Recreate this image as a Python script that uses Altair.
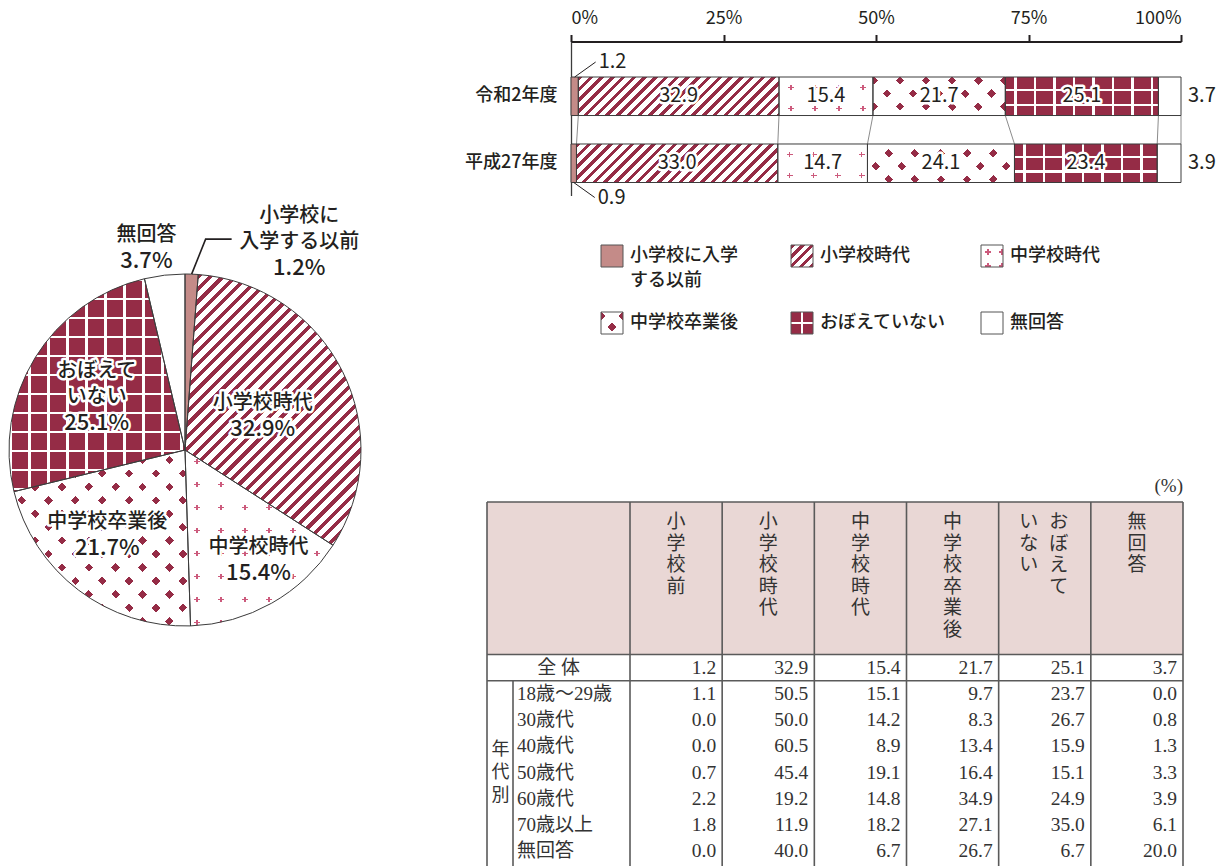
import math

import altair as alt
import pandas as pd

# ---------------------------------------------------------------- data
CATEGORIES = ["小学校に入学する以前", "小学校時代", "中学校時代", "中学校卒業後", "おぼえていない", "無回答"]
YEARS = ["令和2年度", "平成27年度"]
SHARES_R2 = [1.2, 32.9, 15.4, 21.7, 25.1, 3.7]
SHARES_H27 = [0.9, 33.0, 14.7, 24.1, 23.4, 3.9]
AXIS_TICKS = [0, 25, 50, 75, 100]

PIE_NAMES = ["小学校に\n入学する以前", "小学校時代", "中学校時代", "中学校卒業後", "おぼえて\nいない", "無回答"]
LEGEND_NAMES = ["小学校に入学\nする以前", "小学校時代", "中学校時代", "中学校卒業後", "おぼえていない", "無回答"]

TABLE_COLUMNS = ["小学校前", "小学校時代", "中学校時代", "中学校卒業後", "おぼえていない", "無回答"]
TABLE_ROWS = ["全体", "18歳～29歳", "30歳代", "40歳代", "50歳代", "60歳代", "70歳以上", "無回答"]
TABLE_VALUES = [
    [1.2, 32.9, 15.4, 21.7, 25.1, 3.7],
    [1.1, 50.5, 15.1, 9.7, 23.7, 0.0],
    [0.0, 50.0, 14.2, 8.3, 26.7, 0.8],
    [0.0, 60.5, 8.9, 13.4, 15.9, 1.3],
    [0.7, 45.4, 19.1, 16.4, 15.1, 3.3],
    [2.2, 19.2, 14.8, 34.9, 24.9, 3.9],
    [1.8, 11.9, 18.2, 27.1, 35.0, 6.1],
    [0.0, 40.0, 6.7, 26.7, 6.7, 20.0],
]

# ---------------------------------------------------------------- style
RED = "#952c46"
ROSE = "#c48b88"
PLUS = "#cc5a7c"
WHITE = "#ffffff"
CLEAR = "rgba(255,255,255,0)"
INK = "#231f20"
EDGE = "#3c3c3c"
HEAD_BG = "#e9d7d5"
TABLE_LINE = "#5a5a5a"
TABLE_INK = "#333333"
SANS = "Noto Sans CJK JP, Liberation Sans, sans-serif"
SERIF = "Liberation Serif, Noto Sans CJK JP, serif"

# ---------------------------------------------------------------- layout
W, H = 1227, 866
BAR_X_RANGE = [571, 1181]
BAR_Y_RANGE = [41.5, 195.5]
BAR_PAD_INNER, BAR_PAD_OUTER, BAR_ALIGN = 0.425, 0.362, 0.732
PX_PER_PCT = (BAR_X_RANGE[1] - BAR_X_RANGE[0]) / 100
_step = (BAR_Y_RANGE[1] - BAR_Y_RANGE[0]) / (len(YEARS) - BAR_PAD_INNER + 2 * BAR_PAD_OUTER)
BAR_BAND = _step * (1 - BAR_PAD_INNER)

PIE_CX, PIE_CY, PIE_R = 185, 450, 176
PIE_LABEL_SHIFT = [7.4, 0.75, -1.2, 1.45, -0.15, -1.15]   # % of a turn from slice middle
PIE_LABEL_RADIUS = [237, 85, 132, 115, 103, 206]
PIE_LINE = 26

LEGEND_X_RANGE = [612, 1182]
LEGEND_Y_RANGE = [256, 390]
KEY = 22

T_LEFT, T_SPLIT, T_NUM_LEFT, T_RIGHT = 487, 513, 630, 1183
T_TOP, T_HEAD_BOTTOM, T_ROW_STEP, T_BOTTOM = 502, 654.5, 26.25, 866
T_COL_W = (T_RIGHT - T_NUM_LEFT) / len(TABLE_COLUMNS)


# ---------------------------------------------------------------- fills
def stripes(w, h, angle, period, ink, paper, width, phase=0.0):
    """Linear gradient with hard stops: parallel bands of `ink` on `paper`,
    laid out in pixel space over a w x h bounding box."""
    a = math.radians(angle)
    c, s = math.cos(a), math.sin(a)
    c = 0.0 if abs(c) < 1e-9 else c
    s = 0.0 if abs(s) < 1e-9 else s
    corners = [(0.0, 0.0), (w, 0.0), (0.0, h), (w, h)]
    proj = [x * c + y * s for x, y in corners]
    lo = min(range(4), key=lambda i: proj[i])
    length = max(proj) - proj[lo]
    k = length / ((w * c) ** 2 + (h * s) ** 2)
    x1, y1 = corners[lo][0] / w, corners[lo][1] / h
    stops = []
    pos = (phase % period) - period
    while pos < length:
        for seg0, seg1, col in ((pos, pos + width, ink), (pos + width, pos + period, paper)):
            a0, a1 = max(seg0, 0.0), min(seg1, length)
            if a1 > a0:
                stops.append({"offset": round(a0 / length, 5), "color": col})
                stops.append({"offset": round(a1 / length, 5), "color": col})
        pos += period
    return {
        "gradient": "linear",
        "x1": round(x1, 5), "y1": round(y1, 5),
        "x2": round(x1 + k * w * c, 5), "y2": round(y1 + k * h * s, 5),
        "stops": stops,
    }


def plus_marks(w, h, px, py, arm, lw, color):
    """Small '+' glyphs on a px x py lattice, built from four stripe layers."""
    return [
        stripes(w, h, 0, px, color, WHITE, lw, px / 2 - lw / 2),
        stripes(w, h, 90, py, CLEAR, WHITE, arm, py / 2 - arm / 2),
        stripes(w, h, 90, py, color, CLEAR, lw, py / 2 - lw / 2),
        stripes(w, h, 0, px, CLEAR, WHITE, arm, px / 2 - arm / 2),
    ]


def pattern_fills(cat, w, h, size):
    """Stack of fills (bottom first) that builds each category's texture."""
    i = CATEGORIES.index(cat)
    if i == 0:
        return [ROSE]
    if i == 1:
        p = {"bar": 7.6, "pie": 8.8, "key": 7.0}[size]
        return [stripes(w, h, 45, p, RED, WHITE, p * 0.42)]
    if i == 2:
        px, py = {"bar": (24.0, 21.0), "pie": (24.0, 23.0), "key": (14.0, 14.0)}[size]
        return plus_marks(w, h, px, py, 5.5, 1.3, PLUS)
    if i == 3:
        p, d = {"bar": (18.5, 6.0), "pie": (19.0, 6.0), "key": (15.5, 6.0)}[size]
        return [stripes(w, h, 45, p, RED, WHITE, d),
                stripes(w, h, 135, p, CLEAR, WHITE, d)]
    if i == 4:
        (pv, fv), (ph, fh), lw = {
            "bar": ((19.5, 9.0), (14.5, 12.0), 2.4),
            "pie": ((19.0, 0.0), (19.0, 0.0), 2.6),
            "key": ((22.0, 9.7), (22.0, 9.7), 2.6),
        }[size]
        return [stripes(w, h, 0, pv, WHITE, RED, lw, fv),
                stripes(w, h, 90, ph, WHITE, CLEAR, lw, fh)]
    return [WHITE]


def arc_box(t0, t1, r):
    a0, a1 = t0 / 100 * 2 * math.pi, t1 / 100 * 2 * math.pi
    angles = [a0, a1] + [k * math.pi / 2 for k in range(5) if a0 < k * math.pi / 2 < a1]
    xs = [0.0] + [r * math.sin(a) for a in angles]
    ys = [0.0] + [-r * math.cos(a) for a in angles]
    return max(xs) - min(xs), max(ys) - min(ys)


def halo(base, enc, **kw):
    return base.mark_text(stroke="white", strokeWidth=5, strokeJoin="round",
                          fill="white", **kw).encode(**enc)


def ink(base, enc, **kw):
    return base.mark_text(fill=INK, **kw).encode(**enc)


layers = []

# ================================================================ stacked bars
bar_rows = []
for year, shares in zip(YEARS, [SHARES_R2, SHARES_H27]):
    cum = 0.0
    for cat, v in zip(CATEGORIES, shares):
        bar_rows.append({"year": year, "cat": cat, "value": v,
                         "start": round(cum, 4), "end": round(cum + v, 4),
                         "mid": round(cum + v / 2, 4), "label": f"{v:.1f}"})
        cum += v
bars = pd.DataFrame(bar_rows)

x_bar = alt.Scale(domain=[0, 100], range=BAR_X_RANGE, nice=False, zero=False)
y_bar = alt.Scale(type="band", domain=YEARS, range=BAR_Y_RANGE, paddingInner=BAR_PAD_INNER,
                  paddingOuter=BAR_PAD_OUTER, align=BAR_ALIGN)
bx = alt.X("start:Q", scale=x_bar, axis=None)
by = alt.Y("year:N", scale=y_bar, axis=None)

for row in bar_rows:
    w = row["value"] * PX_PER_PCT
    for fill in pattern_fills(row["cat"], w, BAR_BAND, "bar"):
        layers.append(
            alt.Chart(bars)
            .transform_filter((alt.datum.year == row["year"]) & (alt.datum.cat == row["cat"]))
            .mark_bar(fill=fill, strokeWidth=0)
            .encode(x=bx, x2="end:Q", y=by)
        )

# connecting lines between the two years
links = pd.DataFrame({
    "upper": bars.loc[bars.year == YEARS[0], "end"].to_list(),
    "lower": bars.loc[bars.year == YEARS[1], "end"].to_list(),
    "top": YEARS[0], "bottom": YEARS[1],
})
layers.append(
    alt.Chart(links).mark_rule(color="#8c8c8c", strokeWidth=1).encode(
        x=alt.X("upper:Q", scale=x_bar, axis=None), x2="lower:Q",
        y=alt.Y("top:N", scale=y_bar, axis=None, bandPosition=1),
        y2=alt.Y2("bottom:N", bandPosition=0),
    )
)

# outlines + axes
layers.append(
    alt.Chart(bars).mark_bar(fillOpacity=0, stroke=EDGE, strokeWidth=1).encode(
        x=alt.X("start:Q", scale=x_bar, axis=alt.Axis(
            orient="top", offset=-BAR_Y_RANGE[0], values=AXIS_TICKS,
            labelExpr="datum.value + '%'", title=None, grid=False,
            domainColor=INK, domainWidth=2, tickColor=INK, tickWidth=2, tickSize=7,
            labelFont=SANS, labelFontSize=18, labelColor=INK, labelPadding=7)),
        x2="end:Q",
        y=alt.Y("year:N", scale=y_bar, axis=alt.Axis(
            orient="left", offset=-BAR_X_RANGE[0], title=None, grid=False,
            domainColor=EDGE, domainWidth=1.3, ticks=False, tickSize=0,
            labelFont=SANS, labelFontSize=18, labelFontWeight=500,
            labelColor=INK, labelPadding=14)),
    )
)

# value labels inside the bars
inner = alt.Chart(bars).transform_filter(
    alt.FieldOneOfPredicate(field="cat", oneOf=CATEGORIES[1:5]))
inner_enc = dict(x=alt.X("mid:Q", scale=x_bar, axis=None), y=by, text="label:N")
inner_kw = dict(font=SANS, fontSize=20, align="center", baseline="middle")
layers += [halo(inner, inner_enc, **inner_kw), ink(inner, inner_enc, **inner_kw)]

# small first segment: label above (top bar) / below (bottom bar) with a leader
for year, sign in ((YEARS[0], -1), (YEARS[1], 1)):
    band_pos = 0 if sign < 0 else 1
    base = alt.Chart(bars).transform_filter(
        (alt.datum.year == year) & (alt.datum.cat == CATEGORIES[0]))
    layers.append(
        base.mark_rule(color=INK, strokeWidth=1, x2Offset=21, y2Offset=15 * sign).encode(
            x=alt.X("mid:Q", scale=x_bar, axis=None), x2="mid:Q",
            y=alt.Y("year:N", scale=y_bar, axis=None, bandPosition=band_pos),
            y2=alt.Y2("year:N", bandPosition=band_pos),
        )
    )
    layers.append(
        base.mark_text(font=SANS, fontSize=20, fill=INK, align="left", baseline="middle",
                       dx=24, dy=sign * (BAR_BAND / 2 + 15.5)).encode(
            x=alt.X("mid:Q", scale=x_bar, axis=None), y=by, text="label:N",
        )
    )

# last segment labelled to the right of the bar
layers.append(
    alt.Chart(bars).transform_filter(alt.datum.cat == CATEGORIES[-1])
    .mark_text(font=SANS, fontSize=20, fill=INK, align="left", baseline="middle", dx=7)
    .encode(x=alt.X("end:Q", scale=x_bar, axis=None), y=by, text="label:N")
)

# ================================================================ pie
pie_rows = []
cum = 0.0
for i, (cat, v) in enumerate(zip(CATEGORIES, SHARES_R2)):
    mid = cum + v / 2
    pie_rows.append({"cat": cat, "value": v, "start": round(cum, 4), "end": round(cum + v, 4),
                     "mid": mid, "lpos": mid + PIE_LABEL_SHIFT[i], "lr": PIE_LABEL_RADIUS[i],
                     "name": PIE_NAMES[i], "nlines": PIE_NAMES[i].count("\n") + 1,
                     "pct": f"{v:.1f}%"})
    cum += v
pie = pd.DataFrame(pie_rows)
theta_scale = alt.Scale(domain=[0, 100], range=[0, 2 * math.pi], nice=False, zero=False)

for row in pie_rows:
    w, h = arc_box(row["start"], row["end"], PIE_R)
    for fill in pattern_fills(row["cat"], w, h, "pie"):
        layers.append(
            alt.Chart(pie).transform_filter(alt.datum.cat == row["cat"])
            .mark_arc(radius=PIE_R, fill=fill, strokeWidth=0)
            .encode(theta=alt.Theta("start:Q", scale=theta_scale), theta2="end:Q",
                    x=alt.value(PIE_CX), y=alt.value(PIE_CY))
        )
layers.append(
    alt.Chart(pie).mark_arc(radius=PIE_R, fillOpacity=0, stroke=EDGE, strokeWidth=1)
    .encode(theta=alt.Theta("start:Q", scale=theta_scale), theta2="end:Q",
            x=alt.value(PIE_CX), y=alt.value(PIE_CY))
)

# leader line for the thin first slice
a = pie_rows[0]["mid"] / 100 * 2 * math.pi
p0 = (PIE_CX + PIE_R * math.sin(a), PIE_CY - PIE_R * math.cos(a))
leader = pd.DataFrame({"i": [0, 1, 2],
                       "x": [p0[0], p0[0] + 14, p0[0] + 40],
                       "y": [p0[1], p0[1] - 35, p0[1] - 35]})
layers.append(
    alt.Chart(leader).mark_line(color=INK, strokeWidth=1.6).encode(
        x=alt.X("x:Q", scale=None, axis=None), y=alt.Y("y:Q", scale=None, axis=None),
        order="i:O")
)

# slice labels: name lines above, percentage below, centred on the anchor
pie_halos, pie_inks = [], []
for n in (1, 2):
    base = alt.Chart(pie).transform_filter(alt.datum.nlines == n)
    pos = dict(theta=alt.Theta("lpos:Q", scale=theta_scale), radius=alt.Radius("lr:Q", scale=None),
               x=alt.value(PIE_CX), y=alt.value(PIE_CY))
    name_kw = dict(font=SANS, fontSize=20, fontWeight=500, lineHeight=PIE_LINE, align="center",
                   baseline="middle", lineBreak="\n", dy=-PIE_LINE / 2 * n)
    pct_kw = dict(font=SANS, fontSize=22, fontWeight=500, align="center", baseline="middle",
                  dy=PIE_LINE / 2 * n)
    pie_halos += [halo(base, dict(pos, text="name:N"), **name_kw),
                  halo(base, dict(pos, text="pct:N"), **pct_kw)]
    pie_inks += [ink(base, dict(pos, text="name:N"), **name_kw),
                 ink(base, dict(pos, text="pct:N"), **pct_kw)]
layers += pie_halos + pie_inks

# ================================================================ legend
legend = pd.DataFrame({"cat": CATEGORIES, "label": LEGEND_NAMES,
                       "col": [i % 3 for i in range(6)], "row": [i // 3 for i in range(6)]})
lx = alt.X("col:Q", scale=alt.Scale(domain=[0, 3], range=LEGEND_X_RANGE, nice=False, zero=False), axis=None)
ly = alt.Y("row:Q", scale=alt.Scale(domain=[0, 2], range=LEGEND_Y_RANGE, nice=False, zero=False), axis=None)
for cat in CATEGORIES:
    for fill in pattern_fills(cat, KEY, KEY, "key"):
        layers.append(
            alt.Chart(legend).transform_filter(alt.datum.cat == cat)
            .mark_square(size=KEY * KEY, fill=fill, opacity=1, strokeWidth=0, filled=True)
            .encode(x=lx, y=ly)
        )
layers.append(
    alt.Chart(legend).mark_square(size=KEY * KEY, fillOpacity=0, opacity=1, stroke="#555555",
                                  strokeWidth=1, filled=False).encode(x=lx, y=ly)
)
layers.append(
    alt.Chart(legend).mark_text(font=SANS, fontSize=18, fontWeight=500, fill=INK, align="left",
                                baseline="top", dx=18, dy=-9, lineHeight=25, lineBreak="\n")
    .encode(x=lx, y=ly, text="label:N")
)

# ================================================================ table
tx_scale = alt.Scale(type="band", domain=TABLE_COLUMNS, range=[T_NUM_LEFT, T_RIGHT],
                     paddingInner=0, paddingOuter=0)
ty_scale = alt.Scale(type="band", domain=TABLE_ROWS,
                     range=[T_HEAD_BOTTOM, T_HEAD_BOTTOM + T_ROW_STEP * len(TABLE_ROWS)],
                     paddingInner=0, paddingOuter=0)

layers.append(
    alt.Chart(pd.DataFrame({"k": [0]})).mark_rect(fill=HEAD_BG).encode(
        x=alt.value(T_LEFT), x2=alt.value(T_RIGHT), y=alt.value(T_TOP), y2=alt.value(T_HEAD_BOTTOM))
)

# vertical header labels (one glyph per line)
head_rows = []
for col in TABLE_COLUMNS:
    if col == "おぼえていない":
        parts = [("おぼえて", 14), ("いない", -16)]
    else:
        parts = [(col, 0)]
    for text, shift in parts:
        head_rows.append({"col": col, "text": "\n".join(text), "shift": shift})
head = pd.DataFrame(head_rows)
for shift in sorted(set(head["shift"])):
    layers.append(
        alt.Chart(head).transform_filter(alt.datum.shift == shift)
        .mark_text(font=SERIF, fontSize=19, fill=TABLE_INK, align="center", baseline="top",
                   lineHeight=21.5, lineBreak="\n", dx=shift)
        .encode(x=alt.X("col:N", scale=tx_scale, axis=None), y=alt.value(T_TOP + 11), text="text:N")
    )

cells = pd.DataFrame([
    {"row": r, "col": c, "text": f"{TABLE_VALUES[i][j]:.1f}"}
    for i, r in enumerate(TABLE_ROWS) for j, c in enumerate(TABLE_COLUMNS)
])
layers.append(
    alt.Chart(cells).mark_text(font=SERIF, fontSize=19.5, fill=TABLE_INK, align="right",
                               baseline="middle", dx=T_COL_W / 2 - 6)
    .encode(x=alt.X("col:N", scale=tx_scale, axis=None),
            y=alt.Y("row:N", scale=ty_scale, axis=None), text="text:N")
)

row_labels = pd.DataFrame({"row": TABLE_ROWS,
                           "text": [" ".join(TABLE_ROWS[0])] + TABLE_ROWS[1:]})
layers.append(
    alt.Chart(row_labels).transform_filter(alt.datum.row != TABLE_ROWS[0])
    .mark_text(font=SERIF, fontSize=19, fill=TABLE_INK, align="left", baseline="middle")
    .encode(x=alt.value(T_SPLIT + 4), y=alt.Y("row:N", scale=ty_scale, axis=None), text="text:N")
)
layers.append(
    alt.Chart(row_labels).transform_filter(alt.datum.row == TABLE_ROWS[0])
    .mark_text(font=SERIF, fontSize=19, fill=TABLE_INK, align="center", baseline="middle")
    .encode(x=alt.value((T_LEFT + T_NUM_LEFT) / 2), y=alt.Y("row:N", scale=ty_scale, axis=None),
            text="text:N")
)
layers.append(
    alt.Chart(pd.DataFrame({"text": ["\n".join("年代別")]}))
    .mark_text(font=SERIF, fontSize=18, fill=TABLE_INK, align="center", baseline="middle",
               lineHeight=23, lineBreak="\n", dy=-23)
    .encode(x=alt.value((T_LEFT + T_SPLIT) / 2 + 0.5), y=alt.value(773), text="text:N")
)
layers.append(
    alt.Chart(pd.DataFrame({"text": ["(%)"]}))
    .mark_text(font=SERIF, fontSize=19, fill=TABLE_INK, align="right", baseline="middle")
    .encode(x=alt.value(T_RIGHT), y=alt.value(486), text="text:N")
)

# grid lines
col_frame = pd.DataFrame({"col": TABLE_COLUMNS})
layers.append(
    alt.Chart(col_frame).mark_rule(color=TABLE_LINE, strokeWidth=1.6).encode(
        x=alt.X("col:N", scale=tx_scale, axis=None, bandPosition=0),
        y=alt.value(T_TOP), y2=alt.value(T_BOTTOM))
)
layers.append(
    alt.Chart(col_frame).transform_filter(alt.datum.col == TABLE_COLUMNS[-1])
    .mark_rule(color=TABLE_LINE, strokeWidth=1.6).encode(
        x=alt.X("col:N", scale=tx_scale, axis=None, bandPosition=1),
        y=alt.value(T_TOP), y2=alt.value(T_BOTTOM))
)
layers.append(
    alt.Chart(pd.DataFrame({"k": [0]})).mark_rule(color=TABLE_LINE, strokeWidth=1.6).encode(
        x=alt.value(T_LEFT), y=alt.value(T_TOP), y2=alt.value(T_BOTTOM))
)
layers.append(
    alt.Chart(pd.DataFrame({"k": [0]})).mark_rule(color=TABLE_LINE, strokeWidth=1.6).encode(
        x=alt.value(T_LEFT), x2=alt.value(T_RIGHT), y=alt.value(T_TOP))
)
row_frame = pd.DataFrame({"row": TABLE_ROWS[:2]})
layers.append(
    alt.Chart(row_frame).mark_rule(color=TABLE_LINE, strokeWidth=1.6).encode(
        y=alt.Y("row:N", scale=ty_scale, axis=None, bandPosition=0),
        x=alt.value(T_LEFT), x2=alt.value(T_RIGHT))
)
layers.append(
    alt.Chart(row_frame).transform_filter(alt.datum.row == TABLE_ROWS[1])
    .mark_rule(color=TABLE_LINE, strokeWidth=1.6).encode(
        y=alt.Y("row:N", scale=ty_scale, axis=None, bandPosition=0),
        x=alt.value(T_SPLIT), y2=alt.value(T_BOTTOM))
)

chart = (
    alt.layer(*layers)
    .resolve_scale(x="independent", y="independent", theta="independent", radius="independent")
    .properties(width=W, height=H, autosize=alt.AutoSizeParams(type="none"), padding=0,
                background="white")
    .configure_view(stroke=None)
)

chart.save("out.html", embed_options={"renderer": "svg", "actions": False})
